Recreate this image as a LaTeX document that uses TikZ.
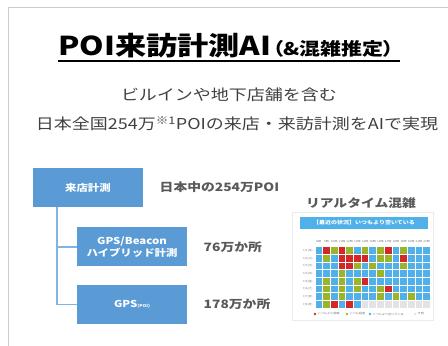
\documentclass[tikz,border=0pt]{standalone}
\usepackage{fontspec}
\setmainfont{Noto Sans CJK JP}[FakeStretch=1.2]
\usepackage{graphicx}
\usepackage{tikz}
\usetikzlibrary{positioning}
\usetikzlibrary{calc}
\definecolor{framegray}{rgb}{0.8,0.8,0.8}
\definecolor{boxblue}{HTML}{5B9BD5}
\definecolor{linkblue}{HTML}{80B4E2}
\definecolor{txtgray}{HTML}{595959}
\definecolor{subgray}{HTML}{404040}
\definecolor{barblue}{HTML}{4FB0EA}
\definecolor{cellB}{HTML}{4FB0EA}
\definecolor{cellR}{HTML}{D42828}
\definecolor{cellG}{HTML}{9AB529}
\definecolor{cellX}{HTML}{E3E3E3}

\tikzset{
  blockbox/.style={fill=boxblue, text=white, font=\bfseries\fontsize{9.5}{12}\selectfont,
    minimum width=110pt, minimum height=39pt, align=center, inner sep=0pt},
  countlabel/.style={anchor=west, text=txtgray, font=\bfseries\fontsize{11.5}{13}\selectfont},
  link/.style={linkblue, line width=1.5pt},
  tinytext/.style={text=black!55, font=\fontsize{2.6}{3}\selectfont, inner sep=0pt}
}

\begin{document}
\begin{tikzpicture}[x=1pt,y=-1pt]
\useasboundingbox (0,0) rectangle (448,346);
\draw[framegray, line width=1pt] (448,7) -- (8,7) -- (8,346);

% title
\node[anchor=base west, inner sep=0pt, font=\bfseries\fontsize{26}{28}\selectfont] (title) at (58,55) {POI来訪計測AI};
\node[anchor=base west, inner sep=0pt, xshift=1pt,
  font=\bfseries\fontsize{17.5}{19}\selectfont\addfontfeatures{RawFeature=+palt}] (paren) at (title.base east) {（\&混雑推定）};
\draw[line width=1.5pt] ([yshift=-6pt]title.base west) -- ++(342,0);

% lead text
\node[text=subgray, font=\fontsize{15}{17}\selectfont] (lead1) at (229,95) {ビルインや地下店舗を含む};
\node[text=subgray, font=\fontsize{15}{17}\selectfont] (lead2) at (237,124) {日本全国254万\textsuperscript{※1}POIの来店・来訪計測をAIで実現};

% tree
\node[blockbox] (raiten) at (88,187.5) {来店計測};
\node[blockbox, below=20pt of raiten, xshift=44pt] (hybrid) {GPS/Beacon\\ハイブリッド計測};
\node[blockbox, below=18pt of hybrid] (gps) {GPS{\fontsize{4}{5}\selectfont (POI)}};
\node[countlabel, right=13pt of raiten] (total) {日本中の254万POI};
\node[countlabel, right=13pt of hybrid] (hybridnum) {76万か所};
\node[countlabel, right=13pt of gps] (gpsnum) {178万か所};
\coordinate (spine) at ([xshift=24pt]raiten.south west);
\draw[link] (spine) |- (hybrid.west);
\draw[link] (spine) |- (gps.west);

% heatmap
\node[text=txtgray, font=\bfseries\fontsize{11.5}{13}\selectfont] (crowd) at (361,203) {リアルタイム混雑};
\draw[black!8] (292,212) rectangle (433,320);
\node[fill=barblue, text=white, minimum width=128pt, minimum height=12pt, inner sep=0pt,
  font=\bfseries\fontsize{5}{6}\selectfont] (status) at (364,223) {【最近の状況】いつもより空いている};
\foreach \h [count=\i from 0] in {8,...,22}
  \node[tinytext] at ({318.85+\i*7.7},242) {{\h}時};
\foreach \d/\w [count=\j from 0] in {1/月,2/火,3/水,4/木,5/金,6/土,7/日,8/月}
  \node[tinytext, anchor=east] at (313,{250.55+\j*7.7}) {7/{\d}({\w})};
\foreach \row [count=\j from 0] in {
  {B,R,G,R,G,B,G,B,G,R,B,G,B,B,B},
  {B,G,B,R,R,R,R,B,G,G,B,R,B,B,B},
  {B,B,B,R,R,G,B,G,B,B,B,G,B,B,B},
  {B,B,B,G,B,B,B,B,G,B,B,B,B,B,B},
  {B,G,B,G,B,G,R,B,B,B,B,B,B,B,B},
  {B,G,B,G,B,G,B,B,G,R,B,B,B,B,B},
  {B,G,B,G,B,B,B,B,G,B,G,B,G,B,B},
  {B,G,R,B,R,B,X,X,X,X,X,X,X,X,X}}
  \foreach \c [count=\i from 0] in \row
    \fill[fill=cell\c] ({315.5+\i*7.7},{247.2+\j*7.7}) rectangle ++(6.7,6.7);
\foreach \x/\c/\t in {315/cellR/いつもより混雑, 347/cellG/いつも程度, 370/cellB/いつもより空いている, 415/cellX/不明} {
  \fill[\c] (\x,314) circle (1.4pt);
  \node[tinytext, anchor=west] at ({\x+2.5},314) {{\t}};
}
\end{tikzpicture}
\end{document}
